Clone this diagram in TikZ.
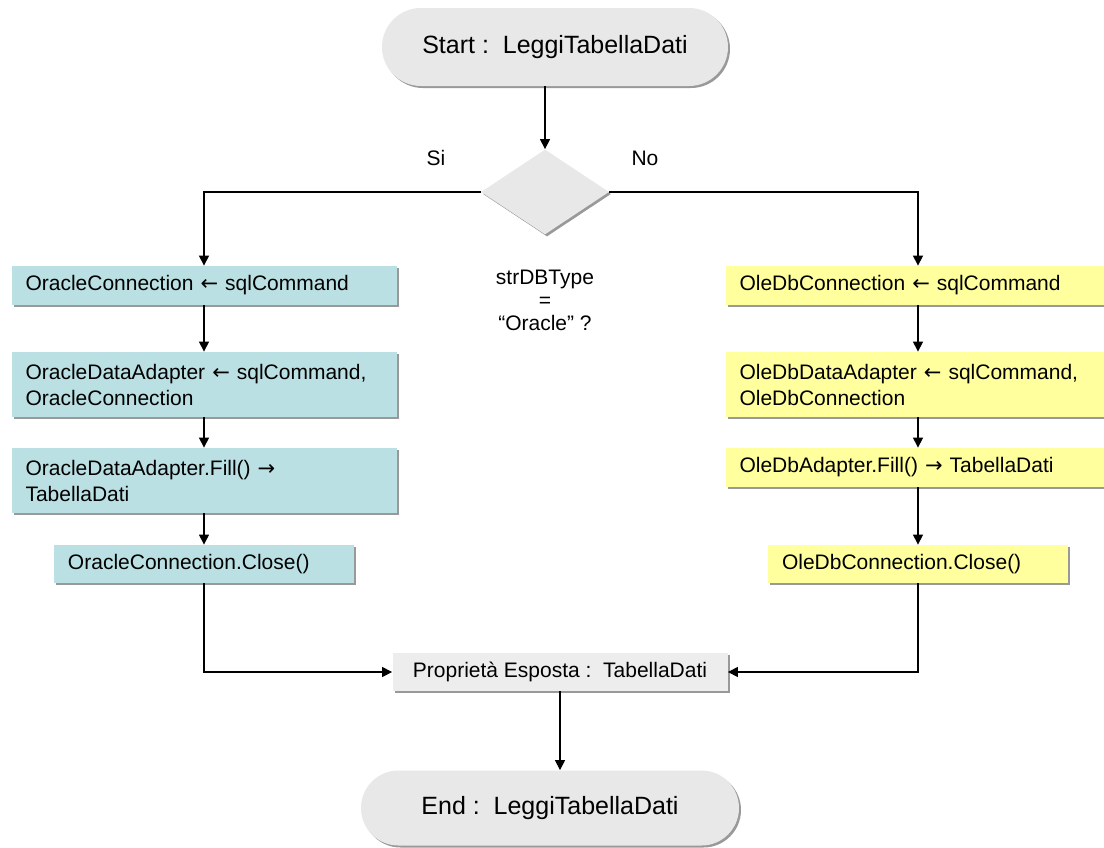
\documentclass[tikz,border=0pt]{standalone}
\usepackage{fontspec}
\setmainfont{Liberation Sans}
\newfontfamily\arrowfont{DejaVu Sans}
\newcommand{\larr}{{\arrowfont ←}}
\newcommand{\rarr}{{\arrowfont →}}
\usetikzlibrary{arrows.meta}
\usetikzlibrary{shapes.geometric,shapes.misc}
\usetikzlibrary{shadows}
\definecolor{oracle}{RGB}{186,224,227}
\definecolor{oledb}{RGB}{255,255,158}
\definecolor{term}{RGB}{232,232,232}
\definecolor{propbox}{RGB}{237,237,237}
\tikzset{
 flowline/.style={black, line width=.6pt, -{Triangle[length=5pt,width=5pt]}},
 boxshadow/.style={drop shadow={shadow xshift=1pt,shadow yshift=-1pt,fill=gray!80,opacity=1}},
 terminal/.style={rounded rectangle, fill=term, boxshadow, inner sep=0pt, font=\fontsize{12.5}{15}\selectfont},
 stepbox/.style={rectangle, fill=#1, boxshadow, align=left, inner xsep=7pt, inner ysep=0pt, text width=178.5pt, font=\fontsize{10.5}{13}\selectfont},
 smallstep/.style={stepbox=#1, text width=136pt, minimum height=19pt},
 plain/.style={font=\fontsize{10.5}{11.5}\selectfont, align=center, inner sep=0pt}
}

\begin{document}
\begin{tikzpicture}[x=.5pt,y=-.5pt]
\useasboundingbox (0,0) rectangle (1104,847);
\path[clip] (0,0) rectangle (1104,847);
\fill[white] (0,0) rectangle (1104,847);

\node[terminal, minimum width=173pt, minimum height=39pt] (start) at (555,47) {Start :\ \ LeggiTabellaDati};
\node[diamond, fill=term, boxshadow, inner sep=0pt, minimum width=64pt, minimum height=42.5pt] (dec) at (545,192) {};
\node[plain] (si) at (436,158) {Si};
\node[plain] (no) at (645,158) {No};
\node[plain] (cond) at (545,300) {strDBType\\=\\“Oracle” ?};

\node[stepbox=oracle, minimum height=19.5pt] (o1) at (204,285.5) {OracleConnection \larr{} sqlCommand};
\node[stepbox=oracle, minimum height=32.5pt] (o2) at (204,384.5) {OracleDataAdapter \larr{} sqlCommand,\\OracleConnection};
\node[stepbox=oracle, minimum height=32.5pt] (o3) at (204,480.5) {OracleDataAdapter.Fill() \rarr\\TabellaDati};
\node[smallstep=oracle] (o4) at (204,564) {OracleConnection.Close()};

\node[stepbox=oledb, minimum height=19.5pt] (y1) at (918,285.5) {OleDbConnection \larr{} sqlCommand};
\node[stepbox=oledb, minimum height=32.5pt] (y2) at (918,384.5) {OleDbDataAdapter \larr{} sqlCommand,\\OleDbConnection};
\node[stepbox=oledb, minimum height=19.5pt] (y3) at (918,467.5) {OleDbAdapter.Fill() \rarr{} TabellaDati};
\node[smallstep=oledb] (y4) at (918,564) {OleDbConnection.Close()};

\node[rectangle, fill=propbox, boxshadow, minimum width=167.5pt, minimum height=19pt, font=\fontsize{10.5}{13}\selectfont] (prop) at (560,672) {Proprietà Esposta :\ \ TabellaDati};
\node[terminal, minimum width=189pt, minimum height=37.5pt] (end) at (550,808) {End :\ \ LeggiTabellaDati};

\draw[flowline] (dec.north |- start.south) -- (dec.north);
\draw[flowline] (dec.west) -| (o1.north);
\draw[flowline] (dec.east) -| (y1.north);
\foreach \a/\b in {o1/o2,o2/o3,o3/o4,y1/y2,y2/y3,y3/y4}
 \draw[flowline] (\a) -- (\b);
\draw[flowline] (o4.south) |- (prop.west);
\draw[flowline] (y4.south) |- (prop.east);
\draw[flowline] (prop.south) -- (prop.south |- end.north);
\end{tikzpicture}
\end{document}
